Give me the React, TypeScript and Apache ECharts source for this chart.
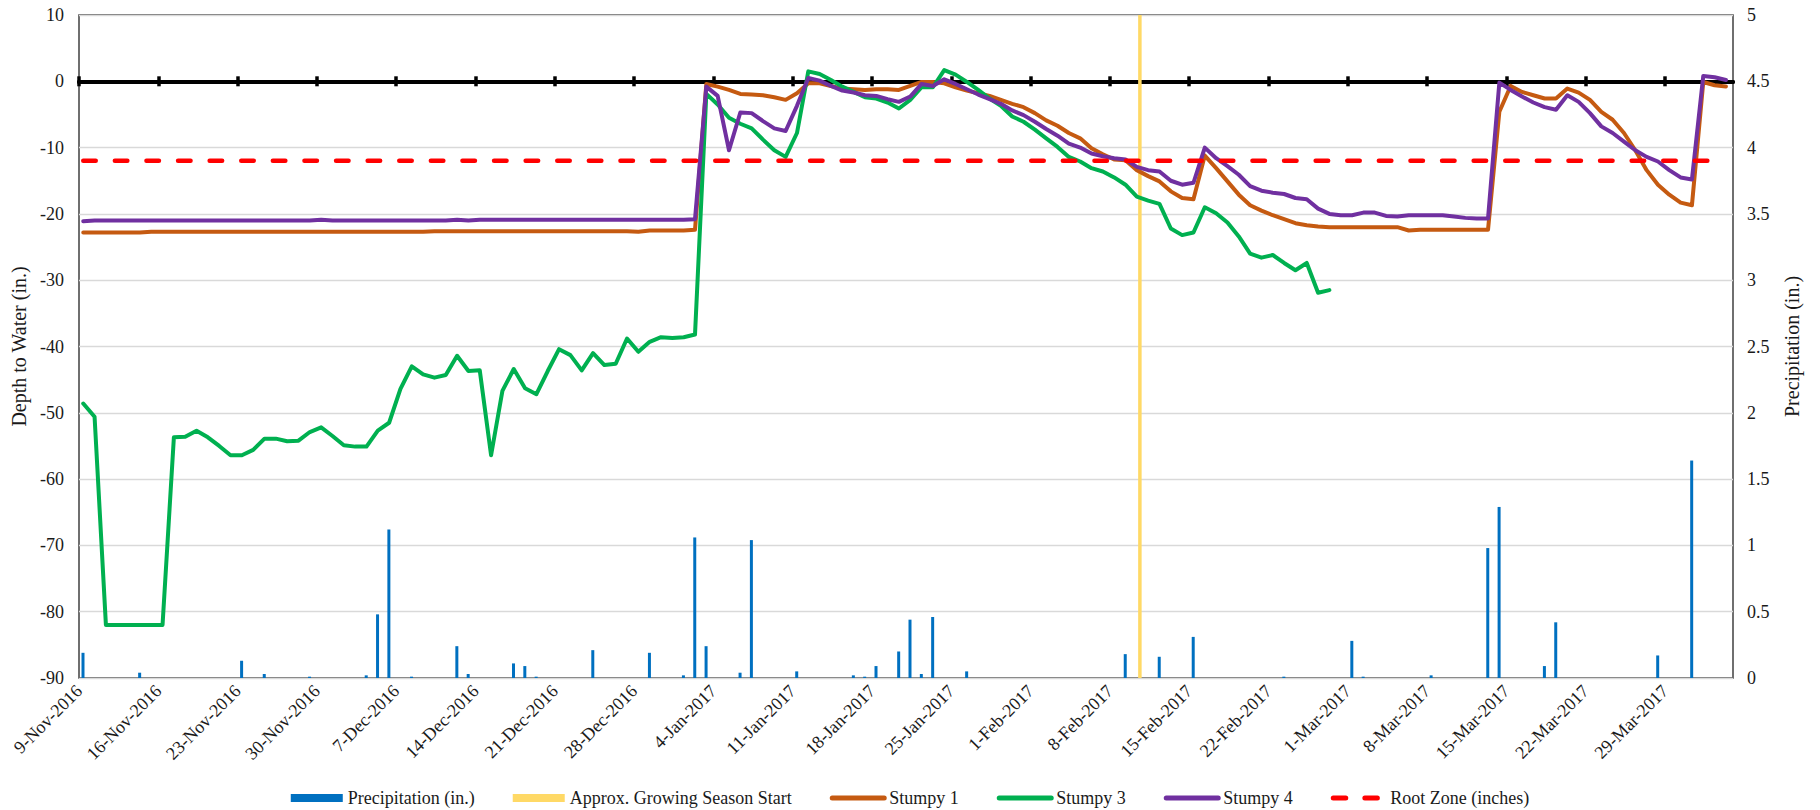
import React, { useEffect, useRef } from 'react';
import * as echarts from 'echarts';

// ---------- data ----------
const axisStartDate = '2016-11-09';
const axisEndDate = '2017-04-04';
const weekLabels = [
  '9-Nov-2016', '16-Nov-2016', '23-Nov-2016', '30-Nov-2016', '7-Dec-2016', '14-Dec-2016',
  '21-Dec-2016', '28-Dec-2016', '4-Jan-2017', '11-Jan-2017', '18-Jan-2017', '25-Jan-2017',
  '1-Feb-2017', '8-Feb-2017', '15-Feb-2017', '22-Feb-2017', '1-Mar-2017', '8-Mar-2017',
  '15-Mar-2017', '22-Mar-2017', '29-Mar-2017',
];
const readingTime = '09:00';
const stumpyFirstReading = '2016-11-09T09:00';

const precipDates = [
  '2016-11-09', '2016-11-14', '2016-11-23', '2016-11-25', '2016-11-29', '2016-12-04', '2016-12-05',
  '2016-12-06', '2016-12-08', '2016-12-12', '2016-12-13', '2016-12-17', '2016-12-18', '2016-12-19',
  '2016-12-24', '2016-12-29', '2017-01-01', '2017-01-02', '2017-01-03', '2017-01-06', '2017-01-07',
  '2017-01-11', '2017-01-16', '2017-01-17', '2017-01-18', '2017-01-20', '2017-01-21', '2017-01-22',
  '2017-01-23', '2017-01-26', '2017-02-09', '2017-02-12', '2017-02-15', '2017-02-23', '2017-03-01',
  '2017-03-02', '2017-03-08', '2017-03-13', '2017-03-14', '2017-03-18', '2017-03-19', '2017-03-28',
  '2017-03-31',
];
const precipValues = [
  0.19, 0.04, 0.13, 0.03, 0.01, 0.02, 0.48,
  1.12, 0.01, 0.24, 0.03, 0.11, 0.09, 0.01,
  0.21, 0.19, 0.02, 1.06, 0.24, 0.04, 1.04,
  0.05, 0.02, 0.01, 0.09, 0.2, 0.44, 0.03,
  0.46, 0.05, 0.18, 0.16, 0.31, 0.01, 0.28,
  0.01, 0.02, 0.98, 1.29, 0.09, 0.42, 0.17,
  1.64,
];

const growingSeasonStart = '2017-02-10T15:30';
const growingSeasonBarHeight = 5;

const rootZoneDepth = -12;
const rootZoneFrom = '2016-11-09T09:00';
const rootZoneTo = '2017-04-03T09:00';

// daily readings starting at stumpyFirstReading
const stumpy1 = [
  -22.8, -22.8, -22.8, -22.8, -22.8, -22.8,
  -22.7, -22.7, -22.7, -22.7, -22.7, -22.7, -22.7, -22.7, -22.7, -22.7,
  -22.7, -22.7, -22.7, -22.7, -22.7, -22.7, -22.7, -22.7, -22.7, -22.7,
  -22.7, -22.7, -22.7, -22.7, -22.7,
  -22.6, -22.6, -22.6, -22.6, -22.6, -22.6, -22.6, -22.6, -22.6, -22.6,
  -22.6, -22.6, -22.6, -22.6, -22.6, -22.6, -22.6, -22.6,
  -22.7, -22.5, -22.5, -22.5, -22.5, -22.4,
  -0.4, -0.8, -1.3, -1.9, -2.0, -2.1, -2.4, -2.8, -1.8, -0.3,
  -0.3, -0.7, -1.1, -1.2, -1.3, -1.2, -1.2, -1.3, -0.7, -0.1,
  -0.1, -0.3, -0.9, -1.4, -1.8, -2.2, -2.8, -3.4, -3.9, -4.8,
  -5.9, -6.7, -7.8, -8.6, -10.1, -11.0, -11.8, -11.9, -13.4, -14.3,
  -15.1, -16.6, -17.6, -17.8, -11.2, -13.1, -15.1, -17.1, -18.7, -19.5,
  -20.2, -20.8, -21.4, -21.7, -21.9, -22.0, -22.0, -22.0, -22.0, -22.0,
  -22.0, -22.0, -22.5, -22.4, -22.4, -22.4, -22.4, -22.4, -22.4, -22.4,
  -4.6, -0.7, -1.6, -2.1, -2.6, -2.6, -1.1, -1.7, -2.8, -4.6,
  -5.8, -7.8, -10.4, -13.4, -15.6, -17.1, -18.3, -18.7, -0.1, -0.6,
  -0.8,
];

const stumpy3 = [
  -48.6, -50.6, -82.0, -82.0, -82.0, -82.0, -82.0, -82.0, -53.7, -53.6,
  -52.7, -53.7, -55.0, -56.4, -56.4, -55.6, -53.9, -53.9, -54.3, -54.2,
  -52.9, -52.2, -53.5, -54.9, -55.1, -55.1, -52.7, -51.5, -46.4, -43.0,
  -44.2, -44.7, -44.3, -41.4, -43.7, -43.6, -56.4, -46.7, -43.4, -46.3,
  -47.2, -43.7, -40.4, -41.3, -43.6, -41.0, -42.8, -42.6, -38.8, -40.8,
  -39.3, -38.6, -38.7, -38.6, -38.2, -1.9, -3.5, -5.5, -6.4, -7.1,
  -8.8, -10.4, -11.4, -7.8, 1.5, 1.1, 0.2, -0.8, -1.6, -2.4,
  -2.6, -3.2, -4.1, -2.8, -0.9, -0.9, 1.7, 1.0, -0.1, -1.3,
  -2.6, -3.7, -5.3, -6.1, -7.3, -8.6, -9.9, -11.4, -12.1, -13.1,
  -13.6, -14.5, -15.6, -17.4, -18.0, -18.5, -22.2, -23.2, -22.8, -19.0,
  -19.9, -21.3, -23.4, -26.0, -26.6, -26.2, -27.4, -28.5, -27.4, -31.9,
  -31.5,
];

const stumpy4 = [
  -21.1, -21.0, -21.0, -21.0, -21.0, -21.0, -21.0, -21.0, -21.0, -21.0,
  -21.0, -21.0, -21.0, -21.0, -21.0, -21.0, -21.0, -21.0, -21.0, -21.0,
  -21.0, -20.9, -21.0, -21.0, -21.0, -21.0, -21.0, -21.0, -21.0, -21.0,
  -21.0, -21.0, -21.0, -20.9, -21.0, -20.9, -20.9, -20.9, -20.9, -20.9,
  -20.9, -20.9, -20.9, -20.9, -20.9, -20.9, -20.9, -20.9, -20.9, -20.9,
  -20.9, -20.9, -20.9, -20.9, -20.8,
  -0.8, -2.2, -10.4, -4.7, -4.8, -6.0, -7.1, -7.5, -3.7, 0.5,
  0.1, -0.7, -1.4, -1.7, -2.1, -2.2, -2.7, -3.1, -2.3, -0.4,
  -0.7, 0.3, -0.4, -1.2, -2.0, -2.7, -3.4, -4.4, -5.1, -6.1,
  -7.2, -8.2, -9.4, -10.0, -10.9, -11.3, -11.6, -11.8, -12.9, -13.4,
  -13.6, -15.0, -15.6, -15.3, -10.0, -11.6, -12.8, -14.1, -15.8, -16.5,
  -16.8, -17.0, -17.6, -17.8, -19.2, -20.0, -20.2, -20.2, -19.8, -19.8,
  -20.3, -20.4, -20.2, -20.2, -20.2, -20.2, -20.4, -20.6, -20.7, -20.7,
  -0.2, -1.3, -2.3, -3.2, -3.9, -4.3, -2.1, -3.1, -4.8, -6.8,
  -7.8, -9.1, -10.4, -11.4, -12.1, -13.4, -14.5, -14.8, 0.8, 0.6,
  0.2,
];

// ---------- helpers ----------
const MONTHS = ['Jan', 'Feb', 'Mar', 'Apr', 'May', 'Jun', 'Jul', 'Aug', 'Sep', 'Oct', 'Nov', 'Dec'];
const DAY_MS = 86400000;
const parseIso = (s: string) => {
  const [d, t = '00:00'] = s.split('T');
  const [y, m, dd] = d.split('-').map(Number);
  const [hh, mm] = t.split(':').map(Number);
  return Date.UTC(y, m - 1, dd, hh, mm);
};
const parseLabel = (s: string) => {
  const [d, mon, y] = s.split('-');
  return Date.UTC(Number(y), MONTHS.indexOf(mon), Number(d));
};
const T0 = parseIso(axisStartDate);
const dayOf = (ms: number) => (ms - T0) / DAY_MS;
const isoDay = (s: string) => dayOf(parseIso(s));
const weekTicks = weekLabels.map((l) => dayOf(parseLabel(l)));
const firstReading = isoDay(stumpyFirstReading);
const dailySeries = (vals: number[]) => vals.map((v, i) => [firstReading + i, v]);

const FONT = 'Liberation Serif, Times New Roman, serif';
const TXT = '#1a1a1a';

export default function App() {
  const ref = useRef<HTMLDivElement>(null);
  useEffect(() => {
    if (!ref.current) return;
    const chart = echarts.init(ref.current, null, { renderer: 'svg' });
    const xMin = 0;
    const xMax = isoDay(axisEndDate);
    const zeroAxis = (position: string) => ({
      type: 'value',
      gridIndex: 0,
      position,
      min: xMin,
      max: xMax,
      axisLine: { show: true, onZero: true, onZeroAxisIndex: 0, lineStyle: { color: '#000', width: 4 } },
      axisTick: { show: true, customValues: weekTicks, length: 5, lineStyle: { color: '#000', width: 3.5 } },
      axisLabel: { show: false },
      splitLine: { show: false },
    });
    const legendLine = { opacity: 0 };
    const legendLineStyle = { width: 5, cap: 'round' };
    const lineSeries = (name: string, color: string, vals: number[]) => ({
      name,
      type: 'line',
      xAxisIndex: 0,
      yAxisIndex: 0,
      symbol: 'none',
      showSymbol: false,
      color,
      lineStyle: { color, width: 4, cap: 'round', join: 'round' },
      data: dailySeries(vals),
    });
    chart.setOption({
      animation: false,
      backgroundColor: '#fff',
      textStyle: { fontFamily: FONT },
      grid: {
        left: 79, right: 87, top: 15, bottom: 132,
        show: true, borderColor: '#404040', borderWidth: 1.5,
        outerBoundsMode: 'none',
      },
      legend: {
        left: 'center',
        top: 784,
        itemWidth: 52,
        itemHeight: 8,
        itemGap: 38,
        textStyle: { fontFamily: FONT, fontSize: 18, color: TXT },
        data: [
          { name: 'Precipitation (in.)', icon: 'rect' },
          { name: 'Approx. Growing Season Start', icon: 'rect' },
          { name: 'Stumpy 1', itemStyle: legendLine, lineStyle: legendLineStyle },
          { name: 'Stumpy 3', itemStyle: legendLine, lineStyle: legendLineStyle },
          { name: 'Stumpy 4', itemStyle: legendLine, lineStyle: legendLineStyle },
          { name: 'Root Zone (inches)', itemStyle: legendLine, lineStyle: legendLineStyle },
        ],
      },
      xAxis: [
        {
          type: 'value',
          position: 'bottom',
          min: xMin,
          max: xMax,
          axisLine: { show: false, onZero: false },
          axisTick: { show: false },
          splitLine: { show: false },
          axisLabel: {
            customValues: weekTicks,
            rotate: 45,
            margin: 10,
            fontFamily: FONT,
            fontSize: 18,
            color: TXT,
            formatter: (v: number) => {
              const i = weekTicks.findIndex((t) => Math.abs(t - v) < 1e-6);
              return i >= 0 ? weekLabels[i] : '';
            },
          },
        },
        zeroAxis('top'),
        zeroAxis('bottom'),
      ],
      yAxis: [
        {
          type: 'value',
          min: -90,
          max: 10,
          interval: 10,
          name: 'Depth to Water (in.)',
          nameLocation: 'middle',
          nameGap: 47,
          nameTextStyle: { fontFamily: FONT, fontSize: 20, color: TXT },
          axisLine: { show: false, onZero: false },
          axisTick: { show: false },
          axisLabel: { fontFamily: FONT, fontSize: 18, color: TXT, margin: 15 },
          splitLine: { show: true, lineStyle: { color: '#d9d9d9', width: 1.3 } },
        },
        {
          type: 'value',
          position: 'right',
          min: 0,
          max: 5,
          interval: 0.5,
          name: 'Precipitation (in.)',
          nameLocation: 'middle',
          nameGap: 49,
          nameTextStyle: { fontFamily: FONT, fontSize: 20, color: TXT },
          axisLine: { show: false, onZero: false },
          axisTick: { show: false },
          axisLabel: { fontFamily: FONT, fontSize: 18, color: TXT, margin: 14 },
          splitLine: { show: false },
        },
      ],
      series: [
        {
          name: 'Precipitation (in.)',
          type: 'bar',
          xAxisIndex: 0,
          yAxisIndex: 1,
          barWidth: 3,
          barGap: '-100%',
          itemStyle: { color: '#0070C0' },
          data: precipDates.map((d, i) => [isoDay(`${d}T${readingTime}`), precipValues[i]]),
        },
        {
          name: 'Approx. Growing Season Start',
          type: 'bar',
          xAxisIndex: 0,
          yAxisIndex: 1,
          barWidth: 3.5,
          barGap: '-100%',
          itemStyle: { color: '#FFD966' },
          data: [[isoDay(growingSeasonStart), growingSeasonBarHeight]],
        },
        lineSeries('Stumpy 1', '#C55A11', stumpy1),
        lineSeries('Stumpy 3', '#00B050', stumpy3),
        lineSeries('Stumpy 4', '#7030A0', stumpy4),
        {
          name: 'Root Zone (inches)',
          type: 'line',
          xAxisIndex: 0,
          yAxisIndex: 0,
          symbol: 'none',
          showSymbol: false,
          color: '#FF0000',
          lineStyle: { color: '#FF0000', width: 4.5, type: [12.5, 19.1], cap: 'round' },
          data: [
            [isoDay(rootZoneFrom), rootZoneDepth],
            [isoDay(rootZoneTo), rootZoneDepth],
          ],
        },
      ],
    });
    return () => chart.dispose();
  }, []);
  return (
    <div
      ref={ref}
      style={{ position: 'absolute', left: 0, top: 0, width: 1820, height: 810, background: '#fff' }}
    />
  );
}
